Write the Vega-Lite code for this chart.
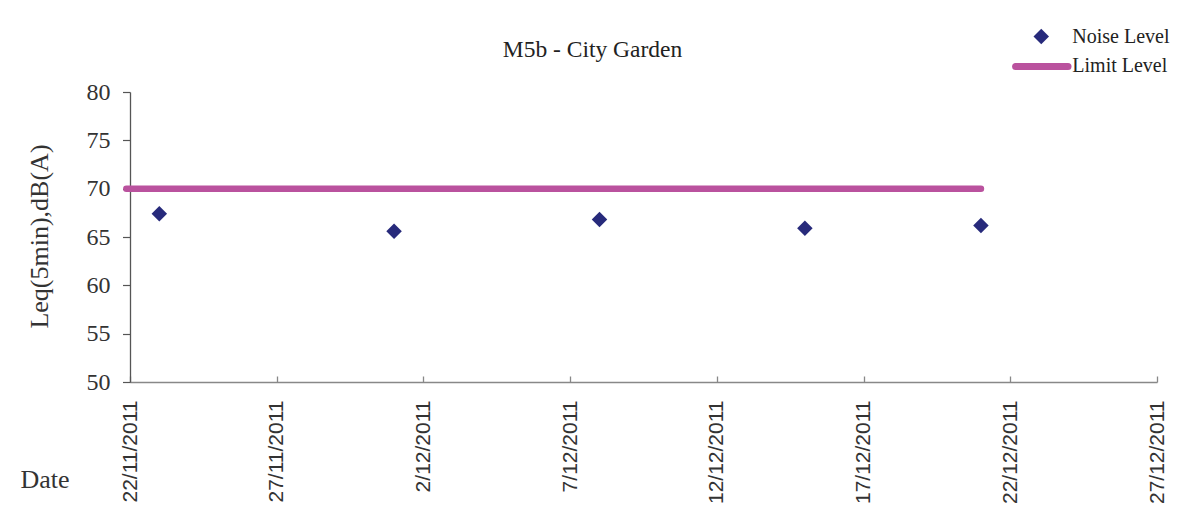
{
  "$schema": "https://vega.github.io/schema/vega-lite/v6.json",
  "width": 1027,
  "height": 290,
  "autosize": {"type": "none"},
  "padding": {"left": 130, "top": 92, "right": 31, "bottom": 136},
  "background": "white",
  "title": {
    "text": "M5b - City Garden",
    "font": "Liberation Serif",
    "fontSize": 23.5,
    "fontWeight": "normal",
    "color": "#222222",
    "anchor": "middle",
    "frame": "group",
    "orient": "top",
    "offset": -54,
    "baseline": "alphabetic",
    "dx": -51
  },
  "datasets": {
    "noise": [
      {"date": "2011-11-23", "leq": 67.4, "series": "Noise Level"},
      {"date": "2011-12-01", "leq": 65.6, "series": "Noise Level"},
      {"date": "2011-12-08", "leq": 66.8, "series": "Noise Level"},
      {"date": "2011-12-15", "leq": 65.9, "series": "Noise Level"},
      {"date": "2011-12-21", "leq": 66.2, "series": "Noise Level"}
    ],
    "limit": [
      {"date": "2011-11-21T21:00:00Z", "leq": 70, "series": "Limit Level"},
      {"date": "2011-12-21", "leq": 70, "series": "Limit Level"}
    ]
  },
  "encoding": {
    "x": {
      "field": "date",
      "type": "temporal",
      "scale": {"type": "utc", "domain": [1321920000000, 1324944000000], "nice": false},
      "axis": {
        "values": [1321920000000, 1322352000000, 1322784000000, 1323216000000, 1323648000000, 1324080000000, 1324512000000, 1324944000000],
        "labelExpr": "utcFormat(datum.value, '%-d/%m/%Y')",
        "domainColor": "#888888",
        "domainWidth": 1.5,
        "tickSize": -6,
        "tickColor": "#888888",
        "tickWidth": 1.3,
        "labelAngle": -90,
        "labelPadding": 24,
        "labelFont": "Liberation Sans",
        "labelFontSize": 21,
        "labelColor": "#333333",
        "labelAlign": "right",
        "labelBaseline": "middle",
        "title": "Date",
        "titleFont": "Liberation Serif",
        "titleFontSize": 26,
        "titleFontWeight": "normal",
        "titleColor": "#333333",
        "titleX": -110,
        "titleY": 97,
        "titleAlign": "left",
        "titleBaseline": "middle",
        "titleAngle": 0
      }
    },
    "y": {
      "field": "leq",
      "type": "quantitative",
      "scale": {"domain": [50, 80], "nice": false, "zero": false},
      "axis": {
        "values": [50, 55, 60, 65, 70, 75, 80],
        "domainColor": "#555555",
        "domainWidth": 1.3,
        "tickSize": 7.5,
        "tickColor": "#555555",
        "tickWidth": 1.2,
        "labelPadding": 12.5,
        "labelFont": "Liberation Serif",
        "labelFontSize": 24,
        "labelColor": "#333333",
        "title": "Leq(5min),dB(A)",
        "titleFont": "Liberation Serif",
        "titleFontSize": 26,
        "titleFontWeight": "normal",
        "titleColor": "#333333",
        "titleAngle": -90,
        "titleX": -91,
        "titleY": 144,
        "titleAlign": "center",
        "titleBaseline": "middle"
      }
    }
  },
  "layer": [
    {
      "data": {"name": "noise"},
      "mark": {"type": "point", "shape": "diamond", "filled": true, "size": 240, "opacity": 1},
      "encoding": {
        "fill": {
          "field": "series",
          "type": "nominal",
          "scale": {"domain": ["Noise Level"], "range": ["#272A7B"]},
          "legend": {
            "title": null,
            "orient": "none",
            "legendX": 901.25,
            "legendY": -65.5,
            "padding": 0,
            "symbolType": "diamond",
            "symbolSize": 240,
            "labelFont": "Liberation Serif",
            "labelFontSize": 20,
            "labelColor": "#222222",
            "labelOffset": 21
          }
        }
      }
    },
    {
      "data": {"name": "limit"},
      "mark": {"type": "line", "strokeWidth": 6.5, "strokeCap": "round", "clip": false},
      "encoding": {
        "stroke": {
          "field": "series",
          "type": "nominal",
          "scale": {"domain": ["Limit Level"], "range": ["#BA529E"]},
          "legend": {
            "title": null,
            "orient": "none",
            "legendX": 881.8,
            "legendY": -55.6,
            "padding": 0,
            "symbolType": "stroke",
            "symbolSize": 2746,
            "symbolStrokeWidth": 7,
            "labelFont": "Liberation Serif",
            "labelFontSize": 20,
            "labelColor": "#222222",
            "labelOffset": 0.5,
            "encode": {"symbols": {"update": {"strokeCap": {"value": "round"}}}}
          }
        }
      }
    }
  ],
  "config": {
    "view": {"stroke": null},
    "axis": {"grid": false}
  }
}
